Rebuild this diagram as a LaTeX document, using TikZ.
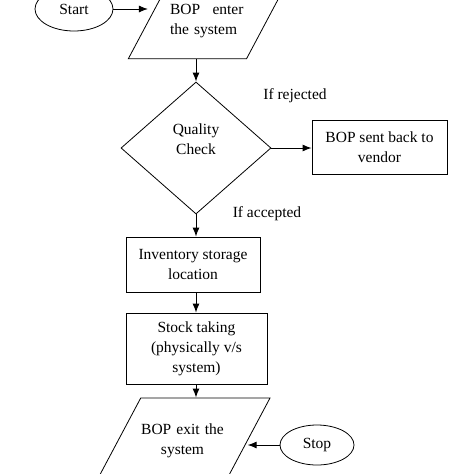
\documentclass[tikz,border=0pt]{standalone}
\usepackage{fontspec}
\setmainfont{Liberation Serif}
\usetikzlibrary{shapes.geometric,arrows.meta}

\begin{document}
\begin{tikzpicture}[
  x=1pt, y=-1pt,
  every node/.style={font=\fontsize{15.5}{20}\selectfont},
  terminal/.style={ellipse,draw,line width=0.8pt,inner sep=0pt},
  io/.style={trapezium,trapezium left angle=62,trapezium right angle=118,
    draw,line width=0.8pt},
  decision/.style={diamond,draw,line width=0.8pt,inner sep=0pt,
    minimum width=150pt,minimum height=132pt},
  process/.style={rectangle,draw,line width=0.8pt,align=center,inner sep=0pt},
  arr/.style={-{Latex[length=9pt,width=7pt]},line width=1pt}
]
\clip (0,0) rectangle (474,474);
% terminals
\node[terminal,minimum width=78pt,minimum height=44pt] (start) at (74,9) {Start};
\node[terminal,minimum width=74pt,minimum height=40pt] (stop) at (317,445) {Stop};
% input / output
\node[io,align=left,text width=75pt,inner xsep=1.5pt,inner ysep=21pt] (enter) at (207.5,21)
  {\mbox{BOP\hspace{0.8em}enter}\\the system};
\node[io,align=center,text width=83.5pt,inner xsep=0pt,inner ysep=26pt] (exit) at (182.5,441)
  {BOP exit the\\system};
% decision
\node[decision] (check) at (196,148)
  {\raisebox{8pt}[\height][\depth]{\begin{tabular}{@{}c@{}}Quality\\Check\end{tabular}}};
% processes
\node[process,minimum width=135pt,minimum height=54pt] (vendor) at (379.5,147)
  {BOP sent back to\\vendor};
\node[process,minimum width=134pt,minimum height=55pt] (store) at (193,264.5)
  {Inventory storage\\location};
\node[process,minimum width=141pt,minimum height=71pt] (stock) at (196.5,348.5)
  {Stock taking\\(physically v/s\\system)};
% branch labels
\node (rejected) at (295,96) {If rejected};
\node (accepted) at (267,214) {If accepted};
% connectors
\draw[arr] (start.east) -- (start.east -| enter.west);
\draw[arr] (enter.south -| check.north) -- (check.north);
\draw[arr] (check.east) -- (check.east -| vendor.west);
\draw[arr] (check.south) -- (check.south |- store.north);
\draw[arr] (check.south |- store.south) -- (check.south |- stock.north);
\draw[arr] (check.south |- stock.south) -- (check.south |- exit.north);
\draw[arr] (stop.west) -- (stop.west -| exit.east);
\end{tikzpicture}
\end{document}
